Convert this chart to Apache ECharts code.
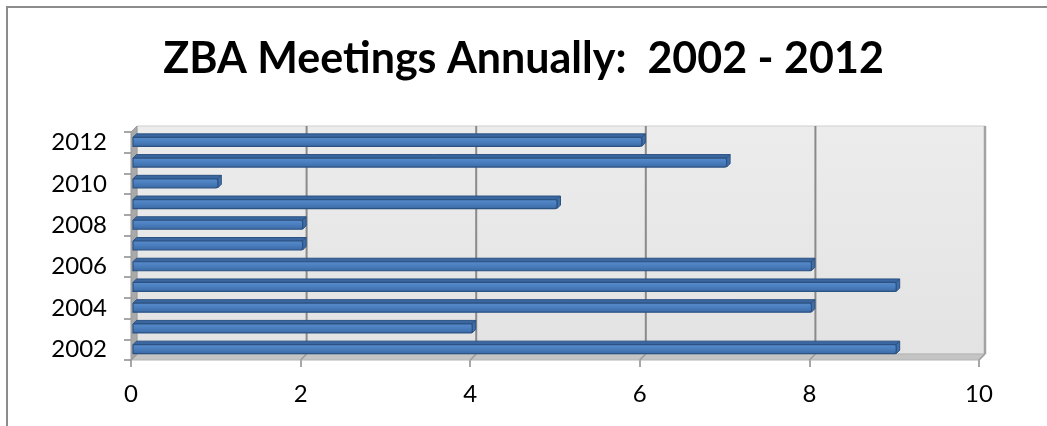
<!DOCTYPE html>
<html>
<head>
<meta charset="utf-8">
<script src="https://cdn.jsdelivr.net/npm/echarts@6/dist/echarts.min.js"></script>
<style>
  html, body { margin: 0; padding: 0; background: #ffffff; }
  #chart { width: 1047px; height: 426px; }
</style>
</head>
<body>
<div id="chart"></div>
<script>
// Meetings held by the Zoning Board of Appeals, per year
const years = ['2002', '2003', '2004', '2005', '2006', '2007', '2008', '2009', '2010', '2011', '2012'];
const meetings = [9, 4, 8, 9, 8, 2, 2, 5, 1, 7, 6];
const xTicks = [0, 2, 4, 6, 8, 10];

const FONT = 'Lato, "Open Sans", sans-serif';
const DEPTH = 6;          // perspective shift of the back wall
const BAR_OFF = 2;        // bar front plane depth
const BAR_DEPTH = 3.5;    // bar thickness in depth
const BAR_H = 9;          // bar front face height

const chart = echarts.init(document.getElementById('chart'), null, { renderer: 'canvas' });

// back wall, side wall, floor and gridlines drawn in grid space
function renderFrame(params, api) {
  const cs = params.coordSys;
  const left = cs.x, top = cs.y, right = cs.x + cs.width, bottom = cs.y + cs.height;
  const D = DEPTH;
  const children = [];
  children.push({
    type: 'rect',
    shape: { x: left + D, y: top - D, width: cs.width, height: cs.height },
    style: {
      fill: new echarts.graphic.LinearGradient(0, 0, 0, 1, [
        { offset: 0, color: '#ececec' },
        { offset: 1, color: '#e3e3e3' }
      ]),
      stroke: '#cfcfcf', lineWidth: 1
    }
  });
  // left side wall
  children.push({
    type: 'polygon',
    shape: { points: [[left, top], [left + D, top - D], [left + D, bottom - D], [left, bottom]] },
    style: { fill: '#a9a9a9', stroke: '#9a9a9a', lineWidth: 1 }
  });
  // floor
  children.push({
    type: 'polygon',
    shape: { points: [[left, bottom], [right, bottom], [right + D, bottom - D], [left + D, bottom - D]] },
    style: { fill: '#c4c4c4', stroke: '#b4b4b4', lineWidth: 1 }
  });
  // right edge of the back wall
  children.push({
    type: 'line',
    shape: { x1: right + D, y1: top - D, x2: right + D, y2: bottom - D },
    style: { stroke: '#a3a3a3', lineWidth: 2.5 }
  });
  // gridlines on the back wall and their traces across the floor
  xTicks.forEach(function (t) {
    const x = api.coord([t, 0])[0];
    if (t > 0 && t < 10) {
      children.push({
        type: 'line',
        shape: { x1: x + D, y1: top - D, x2: x + D, y2: bottom - D },
        style: { stroke: '#8a8a8a', lineWidth: 2 }
      });
    }
    children.push({
      type: 'line',
      shape: { x1: x, y1: bottom, x2: x + D, y2: bottom - D },
      style: { stroke: '#9a9a9a', lineWidth: 1.5 }
    });
  });
  return { type: 'group', children: children };
}

// 3-D style horizontal bar
function renderBar(params, api) {
  const idx = api.value(0);
  const val = api.value(1);
  const p0 = api.coord([0, idx]);
  const p1 = api.coord([val, idx]);
  const cy = p0[1];
  const x0 = p0[0] + BAR_OFF;
  const x1 = p1[0] + BAR_OFF;
  const fy = cy - 5;           // top of the front face
  const d = BAR_DEPTH;
  return {
    type: 'group',
    children: [
      {
        type: 'polygon',
        shape: { points: [[x0, fy], [x1, fy], [x1 + d, fy - d], [x0 + d, fy - d]] },
        style: { fill: '#3a679f', stroke: '#2c5283', lineWidth: 1 }
      },
      {
        type: 'polygon',
        shape: { points: [[x1, fy], [x1 + d, fy - d], [x1 + d, fy + BAR_H - d], [x1, fy + BAR_H]] },
        style: { fill: '#3f6ea9', stroke: '#2c5283', lineWidth: 1 }
      },
      {
        type: 'rect',
        shape: { x: x0, y: fy, width: x1 - x0, height: BAR_H, r: [0, 2, 2, 0] },
        style: {
          fill: new echarts.graphic.LinearGradient(0, 0, 0, 1, [
            { offset: 0, color: '#5a8dcc' },
            { offset: 0.5, color: '#4a7dbd' },
            { offset: 1, color: '#3a68a3' }
          ]),
          stroke: '#2c5283', lineWidth: 1.2
        }
      }
    ]
  };
}

const option = {
  backgroundColor: '#ffffff',
  animation: false,
  title: {
    text: 'ZBA Meetings Annually:  2002 - 2012',
    left: 'center',
    top: 33,
    textStyle: { fontFamily: FONT, fontWeight: 'bold', fontSize: 43, color: '#000000' }
  },
  graphic: [{
    type: 'rect',
    silent: true,
    shape: { x: 7, y: 7, width: 1100, height: 500 },
    style: { fill: 'none', stroke: '#8c8c8c', lineWidth: 2 },
    z: 100
  }],
  grid: { left: 131, right: 68, top: 132, bottom: 66, containLabel: false },
  xAxis: {
    type: 'value',
    min: 0, max: 10, interval: 2,
    axisLine: { show: false },
    axisTick: { show: true, length: 7, lineStyle: { color: '#8a8a8a', width: 1.5 } },
    splitLine: { show: false },
    axisLabel: { fontFamily: FONT, fontSize: 24, color: '#000000', margin: 22 }
  },
  yAxis: {
    type: 'category',
    data: years,
    axisLine: { show: true, lineStyle: { color: '#8a8a8a', width: 1 } },
    axisTick: { show: true, interval: 0, length: 7, lineStyle: { color: '#8a8a8a', width: 1.5 } },
    axisLabel: { interval: 1, fontFamily: FONT, fontSize: 24, color: '#000000', margin: 24 },
    splitLine: { show: false }
  },
  series: [
    {
      type: 'custom',
      name: 'frame',
      renderItem: renderFrame,
      data: [[0, 0]],
      encode: { x: 0, y: 1 },
      z: 1,
      silent: true
    },
    {
      type: 'custom',
      name: 'Meetings',
      renderItem: renderBar,
      data: meetings.map(function (v, i) { return [i, v]; }),
      encode: { y: 0, x: 1 },
      z: 5
    }
  ]
};

chart.setOption(option);
</script>
</body>
</html>
